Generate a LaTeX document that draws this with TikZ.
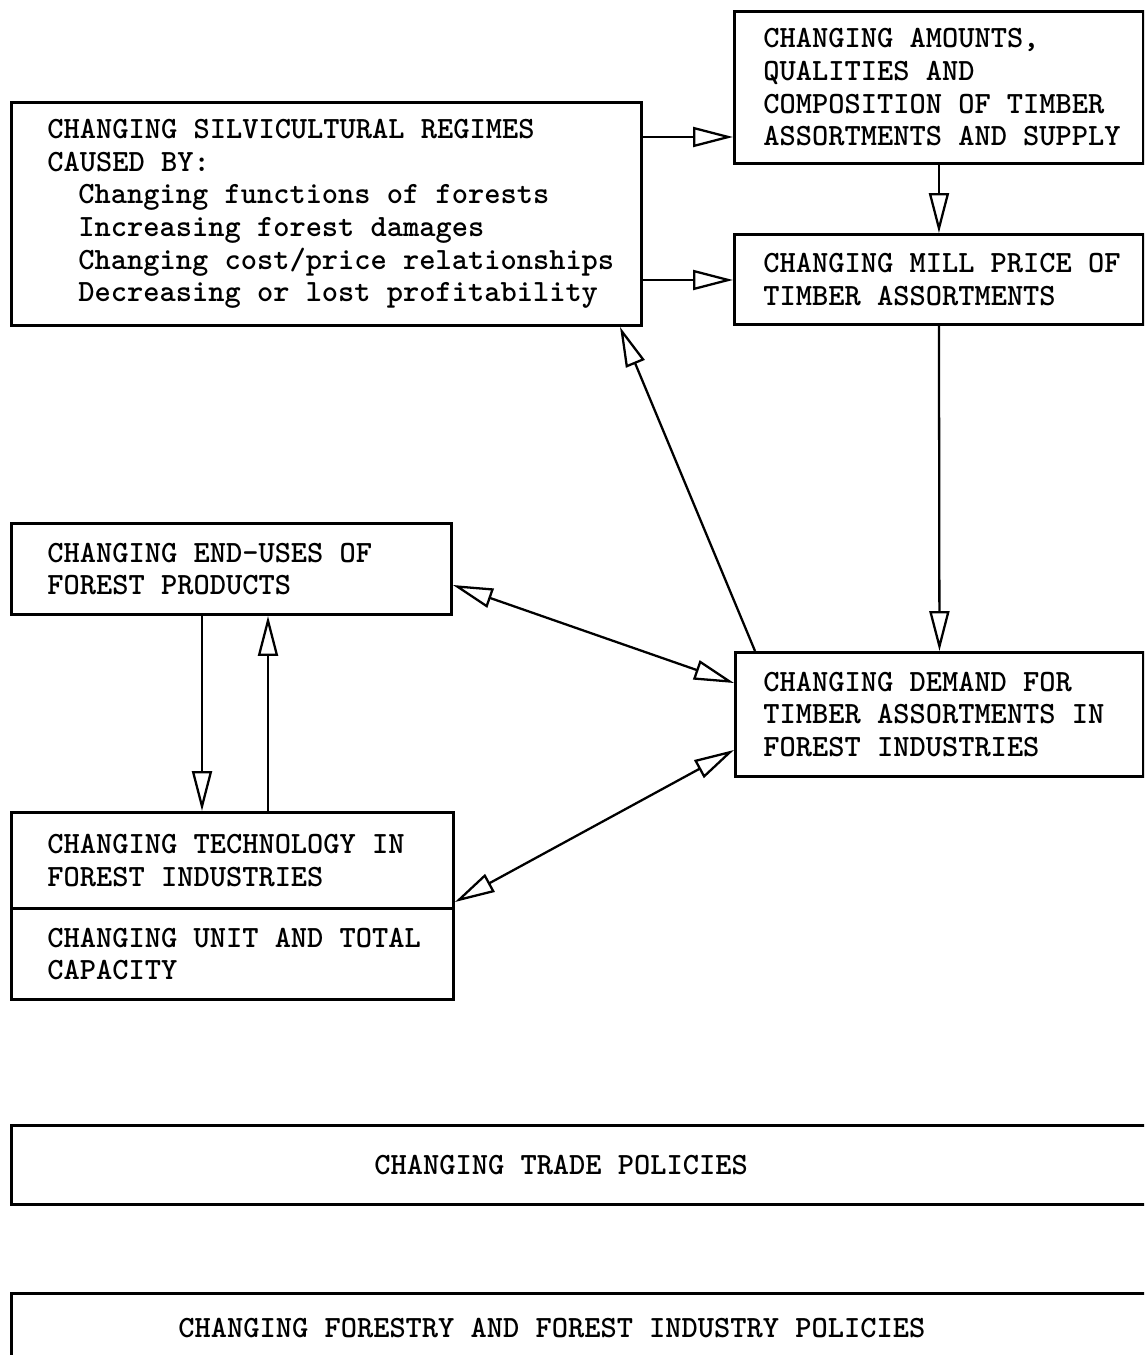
\documentclass[tikz,border=0pt]{standalone}
\usepackage{fontspec}
\usetikzlibrary{arrows.meta}
\newcommand\panelfont{\ttfamily\bfseries\fontsize{17.6pt}{18.6pt}\selectfont}

\begin{document}
\begin{tikzpicture}[x=0.02cm, y=-0.02cm,
    >={Triangle[open, length=0.8cm, width=0.4cm]},
    panel/.style={draw, line width=1.7pt, anchor=north west, inner xsep=0pt, inner ysep=0pt,
      align=left, text width=#1, font=\panelfont},
    pad/.style={execute at begin node={\leftskip=#1\relax\spaceskip=0.525em\relax}},
    conn/.style={line width=1.3pt}]
    \useasboundingbox (0,0) rectangle (1144,1355);
    \clip (0,0) rectangle (1144,1355);
    % boxes
    \node[panel=12.6cm, pad=0.72cm, minimum height=4.46cm] (silv) at (10,101)
        {CHANGING SILVICULTURAL REGIMES\\CAUSED BY:\\
         \hspace*{0.62cm}Changing functions of forests\\
         \hspace*{0.62cm}Increasing forest damages\\
         \hspace*{0.62cm}Changing cost/price relationships\\
         \hspace*{0.62cm}Decreasing or lost profitability};
    \node[panel=8.18cm, pad=0.58cm, minimum height=3.04cm] (amounts) at (733,10)
        {CHANGING AMOUNTS,\\QUALITIES AND\\COMPOSITION OF TIMBER\\ASSORTMENTS AND SUPPLY};
    \node[panel=8.18cm, pad=0.58cm, minimum height=1.8cm] (mill) at (733,233)
        {CHANGING MILL PRICE OF\\TIMBER ASSORTMENTS};
    \node[panel=8.8cm, pad=0.72cm, minimum height=1.82cm] (enduses) at (10,522)
        {CHANGING END-USES OF\\FOREST PRODUCTS};
    \node[panel=8.16cm, pad=0.56cm, minimum height=2.48cm] (demand) at (734,651)
        {CHANGING DEMAND FOR\\TIMBER ASSORTMENTS IN\\FOREST INDUSTRIES};
    \node[panel=8.84cm, pad=0.72cm, minimum height=1.92cm] (tech) at (10,811)
        {CHANGING TECHNOLOGY IN\\FOREST INDUSTRIES};
    \node[panel=8.84cm, pad=0.72cm, minimum height=1.82cm] (capacity) at (10,907)
        {CHANGING UNIT AND TOTAL\\CAPACITY};
    \node[panel=23.2cm, pad=7.26cm, minimum height=1.58cm] (trade) at (10,1124)
        {CHANGING TRADE POLICIES};
    \node[panel=23.2cm, pad=3.34cm, minimum height=1.4cm] (policy) at (10,1292)
        {CHANGING FORESTRY AND FOREST INDUSTRY POLICIES};
    % arrows
    \draw[conn, ->] (silv.east |- 0,137) -- (amounts.west |- 0,137);
    \draw[conn, ->] (silv.east |- 0,280) -- (mill.west |- 0,280);
    \draw[conn, ->] (amounts.south) -- (mill.north);
    \draw[conn, ->] (mill.south) -- (demand.north);
    \draw[conn, ->] (demand.north -| 755,0) -- (silv.south -| 620,0);
    \draw[conn, <->] (enduses.east |- 0,585) -- (demand.west |- 0,683);
    \draw[conn, ->] (enduses.south -| 202,0) -- (tech.north -| 202,0);
    \draw[conn, ->] (tech.north -| 268,0) -- (enduses.south -| 268,0);
    \draw[conn, <->] (tech.east |- 0,902) -- (demand.west |- 0,750);
\end{tikzpicture}
\end{document}
